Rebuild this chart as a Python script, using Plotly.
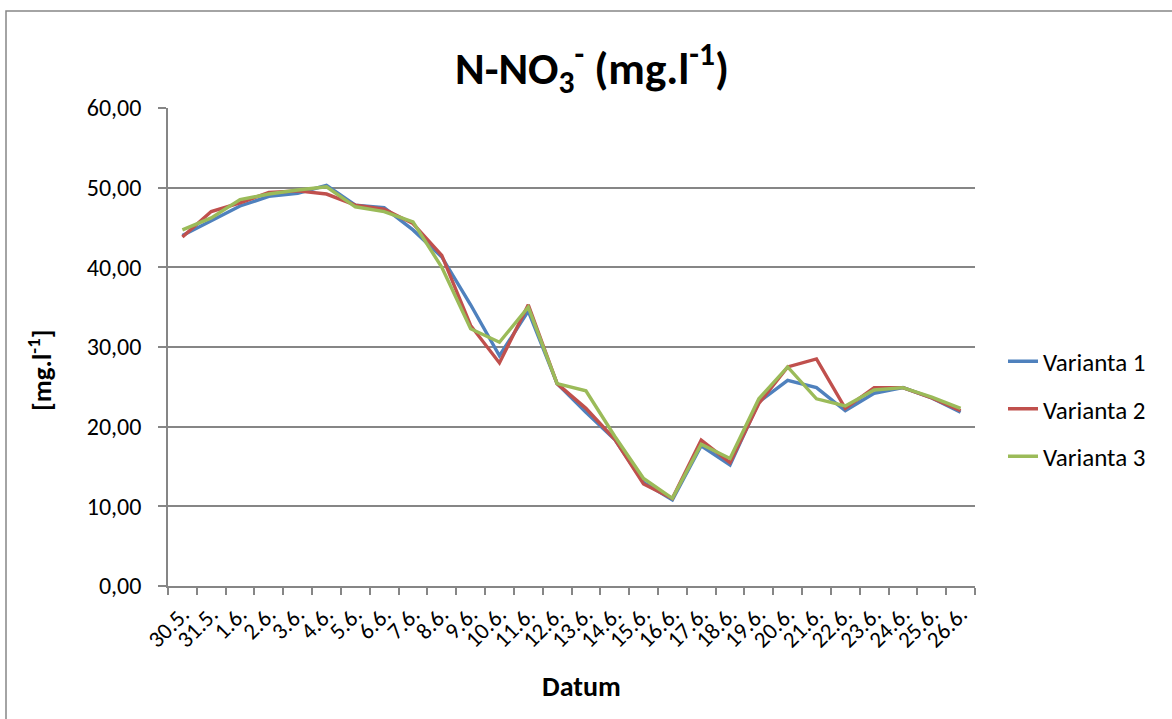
import plotly.graph_objects as go

dates = ["30.5.", "31.5.", "1.6.", "2.6.", "3.6.", "4.6.", "5.6.", "6.6.", "7.6.", "8.6.",
         "9.6.", "10.6.", "11.6.", "12.6.", "13.6.", "14.6.", "15.6.", "16.6.", "17.6.", "18.6.",
         "19.6.", "20.6.", "21.6.", "22.6.", "23.6.", "24.6.", "25.6.", "26.6."]

varianta1 = [44.0, 45.9, 47.7, 48.9, 49.3, 50.3, 47.8, 47.5, 44.7, 41.3,
             35.3, 28.9, 34.5, 25.4, 21.8, 18.4, 13.0, 10.8, 17.6, 15.2,
             23.1, 25.8, 24.9, 22.0, 24.2, 24.9, 23.6, 21.8]
varianta2 = [43.8, 47.0, 48.1, 49.4, 49.6, 49.2, 47.8, 47.3, 45.5, 41.5,
             32.7, 28.0, 35.3, 25.4, 22.3, 18.4, 12.8, 11.0, 18.3, 15.5,
             22.9, 27.5, 28.5, 22.3, 24.9, 24.9, 23.6, 22.0]
varianta3 = [44.7, 46.2, 48.5, 49.2, 49.7, 50.1, 47.6, 47.0, 45.7, 40.0,
             32.3, 30.6, 35.0, 25.4, 24.5, 18.8, 13.5, 11.0, 17.8, 16.0,
             23.5, 27.5, 23.5, 22.6, 24.6, 24.9, 23.7, 22.3]

series_names = ["Varianta 1", "Varianta 2", "Varianta 3"]
colors = ["#4F81BD", "#C0504D", "#9BBB59"]

FONT = "Calibri, Carlito, Lato, sans-serif"

fig = go.Figure()
for i, (name, vals, col) in enumerate(zip(series_names, [varianta1, varianta2, varianta3], colors)):
    fig.add_trace(go.Scatter(x=dates, y=vals, mode="lines", name=name, legendgroup=f"g{i}",
                             line=dict(color=col, width=3.4)))

L, R, T, B = 168, 1172 - 975, 108, 719 - 586
W, H = 1172, 719
pw, ph = W - L - R, H - T - B

def px(x):
    return (x - L) / pw

def py(y):
    return (H - B - y) / ph

fig.update_layout(
    width=W, height=H,
    margin=dict(l=L, r=R, t=T, b=B, autoexpand=False),
    paper_bgcolor="white", plot_bgcolor="white",
    separators=", ",
    font=dict(family=FONT, color="black", size=23),
    showlegend=True,
    legend=dict(x=px(1003), y=py(409), xanchor="left", yanchor="middle",
                font=dict(size=25, family=FONT), tracegroupgap=12,
                bgcolor="rgba(0,0,0,0)"),
    title=dict(text="<b>N-NO<sub>3</sub><sup>-</sup> (mg.l<sup>-1</sup>)</b>",
               x=592 / W, y=1 - 68 / H, xanchor="center", yanchor="middle",
               font=dict(size=45, family=FONT, color="black")),
    xaxis=dict(type="category", showline=True, linecolor="#868686", linewidth=1.5,
               ticks="outside", tickson="boundaries", ticklen=7, tickcolor="#868686",
               tickwidth=1.5, tickangle=-45, showgrid=False, ticklabelstandoff=4,
               tickfont=dict(size=23, family=FONT), range=[-0.5, len(dates) - 0.5]),
    yaxis=dict(range=[0, 60], dtick=10, tickformat=".2f", showline=True,
               linecolor="#868686", linewidth=1.5, ticks="outside", ticklen=8,
               tickcolor="#868686", tickwidth=1.5, showgrid=True, ticklabelstandoff=12,
               gridcolor="#868686", gridwidth=1.5, zeroline=False,
               tickfont=dict(size=24, family=FONT)),
    annotations=[
        dict(text="<b>[mg.l<sup>-1</sup>]</b>", x=px(40), y=py(370), xref="paper", yref="paper",
             textangle=-90, showarrow=False, font=dict(size=27, family=FONT),
             xanchor="center", yanchor="middle"),
        dict(text="<b>Datum</b>", x=px(581), y=py(686), xref="paper", yref="paper",
             showarrow=False, font=dict(size=28, family=FONT),
             xanchor="center", yanchor="middle"),
    ],
    shapes=[
        dict(type="rect", xref="paper", yref="paper",
             x0=px(6), x1=px(1190), y0=py(11), y1=py(740),
             line=dict(color="#868686", width=1.5), fillcolor="rgba(0,0,0,0)", layer="below"),
    ],
)

fig.write_html("out.html")
